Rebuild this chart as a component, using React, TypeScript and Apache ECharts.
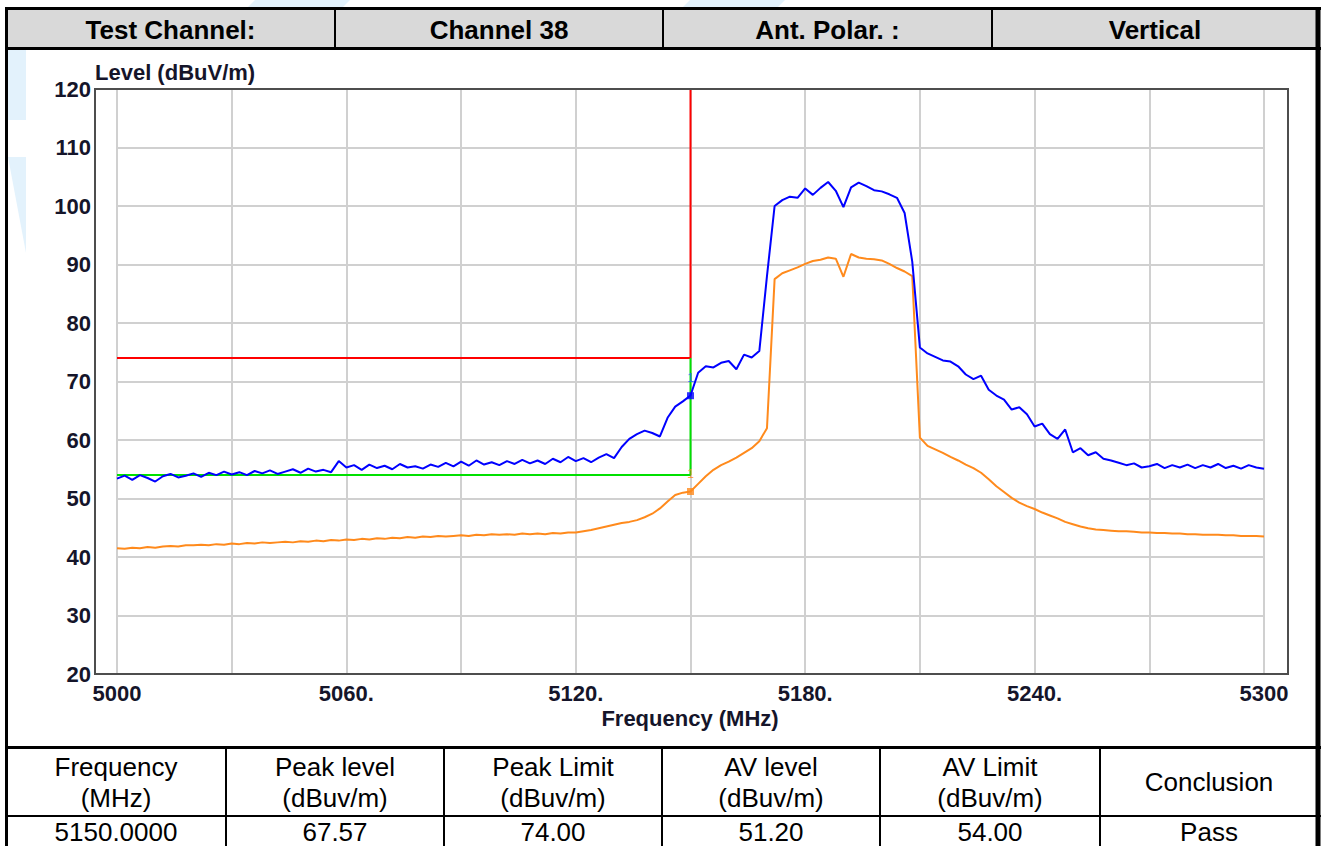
import React, { useEffect, useRef } from "react";
import * as echarts from "echarts";

// ---- data ----
const FREQ_START = 5000;
const FREQ_STEP = 2;

const PEAK_LEVEL = [
  53.4, 53.9, 53.2, 54.0, 53.5, 52.9, 53.8, 54.2, 53.6, 53.9,
  54.3, 53.7, 54.4, 54.0, 54.6, 54.1, 54.5, 54.0, 54.7, 54.3,
  54.8, 54.2, 54.6, 55.0, 54.4, 55.1, 54.6, 54.9, 54.5, 56.4,
  55.3, 55.7, 54.9, 55.8, 55.2, 55.6, 55.0, 55.9, 55.3, 55.5,
  55.1, 55.8, 55.4, 56.1, 55.5, 56.3, 55.6, 56.5, 55.8, 56.2,
  55.7, 56.4, 55.9, 56.6, 56.0, 56.5, 55.9, 56.8, 56.2, 57.1,
  56.4, 56.9, 56.2, 57.0, 57.6, 56.9, 58.8, 60.2, 61.0, 61.6,
  61.2, 60.6, 63.8, 65.7, 66.6, 67.6, 71.5, 72.6, 72.4, 73.2,
  73.5, 72.1, 74.6, 74.1, 75.2, 88.0, 100.0, 101.0, 101.6, 101.4,
  103.0, 101.9, 103.1, 104.1, 102.6, 99.8, 103.2, 104.0, 103.4, 102.7,
  102.5, 102.0, 101.4, 98.8, 90.5, 75.8, 74.8, 74.2, 73.6, 73.4,
  72.6, 71.2, 70.4, 71.0, 68.6, 67.6, 66.9, 65.2, 65.6, 64.4,
  62.3, 62.8, 61.0, 60.2, 61.8, 57.9, 58.6, 57.4, 57.9, 56.8,
  56.5, 56.1, 55.7, 56.0, 55.3, 55.5, 55.9, 55.2, 55.7, 55.3,
  55.8, 55.2, 55.7, 55.3, 55.9, 55.2, 55.6, 55.1, 55.7, 55.3,
  55.1,
];

const AV_LEVEL = [
  41.5, 41.4, 41.6, 41.5, 41.7, 41.6, 41.8, 41.9, 41.8, 42.0,
  42.0, 42.1, 42.0, 42.2, 42.1, 42.3, 42.2, 42.4, 42.3, 42.5,
  42.4, 42.5, 42.6, 42.5, 42.7, 42.6, 42.8, 42.7, 42.9, 42.8,
  43.0, 42.9, 43.1, 43.0, 43.2, 43.1, 43.3, 43.2, 43.4, 43.3,
  43.5, 43.4, 43.6, 43.5, 43.6, 43.7, 43.6, 43.8, 43.7, 43.9,
  43.8, 43.9, 43.8, 44.0, 43.9, 44.0, 43.9, 44.1, 44.0, 44.2,
  44.2, 44.4, 44.6, 44.9, 45.2, 45.5, 45.8, 46.0, 46.3, 46.8,
  47.4, 48.3, 49.5, 50.6, 51.0, 51.2, 52.5, 53.8, 54.9, 55.7,
  56.3, 57.0, 57.8, 58.6, 59.8, 62.0, 87.5, 88.5, 89.0, 89.5,
  90.1, 90.6, 90.8, 91.2, 91.0, 87.9, 91.8, 91.2, 91.0, 90.9,
  90.7, 90.1, 89.4, 88.8, 88.0, 60.4, 59.0, 58.4, 57.8, 57.1,
  56.5, 55.8, 55.2, 54.4, 53.3, 52.1, 51.1, 50.1, 49.3, 48.7,
  48.2, 47.6, 47.1, 46.6, 46.0, 45.6, 45.2, 44.9, 44.7, 44.6,
  44.5, 44.4, 44.4, 44.3, 44.2, 44.2, 44.1, 44.1, 44.0, 44.0,
  43.9, 43.9, 43.8, 43.8, 43.8, 43.7, 43.7, 43.6, 43.6, 43.6,
  43.5,
];

const PEAK_LIMIT_LINE = [
  [5000, 74],
  [5150, 74],
  [5150, 120],
];
const AV_LIMIT_LINE = [
  [5000, 54],
  [5150, 54],
  [5150, 74],
];

const MARKER_FREQ = 5150;
const MARKER_PEAK = 67.57;
const MARKER_AV = 51.2;

const X_TICK_LABELS: [number, string][] = [
  [5000, "5000"],
  [5060, "5060."],
  [5120, "5120."],
  [5180, "5180."],
  [5240, "5240."],
  [5300, "5300"],
];

const HEADER_CELLS = ["Test Channel:", "Channel 38", "Ant. Polar. :", "Vertical"];
const TABLE_HEAD = [
  ["Frequency", "(MHz)"],
  ["Peak level", "(dBuv/m)"],
  ["Peak Limit", "(dBuv/m)"],
  ["AV level", "(dBuv/m)"],
  ["AV Limit", "(dBuv/m)"],
  ["Conclusion"],
];
const TABLE_ROW = ["5150.0000", "67.57", "74.00", "51.20", "54.00", "Pass"];

const Y_AXIS_TITLE = "Level (dBuV/m)";
const X_AXIS_TITLE = "Frequency (MHz)";

export default function App() {
  const ref = useRef<HTMLDivElement>(null);

  useEffect(() => {
    if (!ref.current) return;
    const chart = echarts.init(ref.current, undefined, { renderer: "svg" });

    const peakData = PEAK_LEVEL.map((v, i) => [FREQ_START + i * FREQ_STEP, v]);
    const avData = AV_LEVEL.map((v, i) => [FREQ_START + i * FREQ_STEP, v]);
    const labelMap = new Map(X_TICK_LABELS);

    const FONT = "Arial, 'Liberation Sans', sans-serif";
    const W = 1326;
    const AXIS_TXT = "#15152a";

    const headerBounds = [6, 335, 663, 992, 1318];
    const tableBounds = [6, 226, 444, 662, 880, 1100, 1318];

    const g: any[] = [];
    // watermark
    const wm = "#e3f2fc";
    g.push({ type: "polygon", z: 1, shape: { points: [[255, 0], [350, 0], [342, 8], [247, 8]] }, style: { fill: wm } });
    g.push({ type: "polygon", z: 1, shape: { points: [[690, 0], [785, 0], [777, 8], [682, 8]] }, style: { fill: wm } });
    g.push({ type: "rect", z: 1, shape: { x: 8, y: 50, width: 18, height: 70 }, style: { fill: wm } });
    g.push({ type: "polygon", z: 1, shape: { points: [[8, 157], [26, 157], [26, 253]] }, style: { fill: wm } });

    // header row
    g.push({ type: "rect", z: 5, shape: { x: 6, y: 9, width: 1312, height: 39 }, style: { fill: "#d9d9d9" } });
    g.push({ type: "line", z: 6, shape: { x1: 5, y1: 8.5, x2: 1321, y2: 8.5 }, style: { stroke: "#000", lineWidth: 3 } });
    g.push({ type: "line", z: 6, shape: { x1: 5, y1: 48.5, x2: 1321, y2: 48.5 }, style: { stroke: "#000", lineWidth: 3 } });
    for (let i = 1; i < headerBounds.length - 1; i++) {
      g.push({ type: "line", z: 6, shape: { x1: headerBounds[i], y1: 9, x2: headerBounds[i], y2: 48 }, style: { stroke: "#000", lineWidth: 2 } });
    }
    HEADER_CELLS.forEach((t, i) => {
      g.push({
        type: "text", z: 7,
        x: (headerBounds[i] + headerBounds[i + 1]) / 2, y: 30,
        style: { text: t, font: `bold 26px ${FONT}`, fill: "#000", align: "center", verticalAlign: "middle" },
      });
    });

    // outer left/right borders
    g.push({ type: "line", z: 6, shape: { x1: 6.5, y1: 7, x2: 6.5, y2: 846 }, style: { stroke: "#000", lineWidth: 3 } });
    g.push({ type: "line", z: 6, shape: { x1: 1318, y1: 7, x2: 1318, y2: 846 }, style: { stroke: "#000", lineWidth: 5 } });

    // bottom table
    g.push({ type: "line", z: 6, shape: { x1: 5, y1: 747.5, x2: 1321, y2: 747.5 }, style: { stroke: "#000", lineWidth: 3 } });
    g.push({ type: "line", z: 6, shape: { x1: 5, y1: 816, x2: 1321, y2: 816 }, style: { stroke: "#000", lineWidth: 2 } });
    for (let i = 1; i < tableBounds.length - 1; i++) {
      g.push({ type: "line", z: 6, shape: { x1: tableBounds[i], y1: 748, x2: tableBounds[i], y2: 846 }, style: { stroke: "#000", lineWidth: 2 } });
    }
    const TF = `26px ${FONT}`;
    TABLE_HEAD.forEach((lines, i) => {
      const cx = (tableBounds[i] + tableBounds[i + 1]) / 2;
      if (lines.length === 2) {
        g.push({ type: "text", z: 7, x: cx, y: 767, style: { text: lines[0], font: TF, fill: "#000", align: "center", verticalAlign: "middle" } });
        g.push({ type: "text", z: 7, x: cx, y: 798, style: { text: lines[1], font: TF, fill: "#000", align: "center", verticalAlign: "middle" } });
      } else {
        g.push({ type: "text", z: 7, x: cx, y: 782, style: { text: lines[0], font: TF, fill: "#000", align: "center", verticalAlign: "middle" } });
      }
    });
    TABLE_ROW.forEach((t, i) => {
      const cx = (tableBounds[i] + tableBounds[i + 1]) / 2;
      g.push({ type: "text", z: 7, x: cx, y: 832, style: { text: t, font: TF, fill: "#000", align: "center", verticalAlign: "middle" } });
    });

    // plot frame
    g.push({ type: "rect", z: 50, shape: { x: 95, y: 89, width: 1193, height: 585 }, style: { fill: "none", stroke: "#4d4d4d", lineWidth: 2 } });

    // axis titles
    g.push({ type: "text", z: 7, x: 95, y: 72, style: { text: Y_AXIS_TITLE, font: `bold 22px ${FONT}`, fill: AXIS_TXT, align: "left", verticalAlign: "middle" } });
    g.push({ type: "text", z: 7, x: 690, y: 718, style: { text: X_AXIS_TITLE, font: `bold 22px ${FONT}`, fill: AXIS_TXT, align: "center", verticalAlign: "middle" } });

    chart.setOption({
      animation: false,
      backgroundColor: "#ffffff",
      grid: { left: 117, right: W - 1264, top: 89, bottom: 846 - 674, containLabel: false },
      xAxis: {
        type: "value",
        min: 5000,
        max: 5300,
        interval: 30,
        axisLine: { show: false },
        axisTick: { show: false },
        splitLine: { show: true, lineStyle: { color: "#d0d0d0", width: 2 } },
        axisLabel: {
          margin: 8,
          showMaxLabel: true,
          showMinLabel: true,
          color: AXIS_TXT,
          fontFamily: FONT,
          fontWeight: "bold",
          fontSize: 22,
          formatter: (v: number) => labelMap.get(v) ?? "",
        },
      },
      yAxis: {
        type: "value",
        min: 20,
        max: 120,
        interval: 10,
        axisLine: { show: false },
        axisTick: { show: false },
        splitLine: { show: true, lineStyle: { color: "#d0d0d0", width: 2 } },
        axisLabel: {
          margin: 26,
          color: AXIS_TXT,
          fontFamily: FONT,
          fontWeight: "bold",
          fontSize: 22,
        },
      },
      graphic: { elements: g },
      series: [
        {
          type: "line",
          data: PEAK_LIMIT_LINE,
          showSymbol: false,
          lineStyle: { color: "#ff0000", width: 2 },
          z: 3,
        },
        {
          type: "line",
          data: AV_LIMIT_LINE,
          showSymbol: false,
          lineStyle: { color: "#00e000", width: 2 },
          z: 3,
        },
        {
          type: "line",
          data: avData,
          showSymbol: false,
          lineStyle: { color: "#ff8a1c", width: 2 },
          z: 4,
        },
        {
          type: "line",
          data: peakData,
          showSymbol: false,
          lineStyle: { color: "#0000ff", width: 2 },
          z: 5,
        },
        {
          type: "scatter",
          data: [[MARKER_FREQ, MARKER_PEAK]],
          symbol: "rect",
          symbolSize: 7,
          itemStyle: { color: "#0000ff" },
          label: { show: true, formatter: "1", position: "top", distance: 8, color: "#2060ff", fontSize: 12, fontFamily: FONT },
          z: 6,
        },
        {
          type: "scatter",
          data: [[MARKER_FREQ, MARKER_AV]],
          symbol: "rect",
          symbolSize: 7,
          itemStyle: { color: "#ff8a1c" },
          label: { show: true, formatter: "1", position: "top", distance: 8, color: "#ff8a1c", fontSize: 12, fontFamily: FONT },
          z: 6,
        },
      ],
    });

    return () => chart.dispose();
  }, []);

  return (
    <div
      ref={ref}
      style={{ position: "fixed", left: 0, top: 0, width: 1326, height: 846, background: "#fff" }}
    />
  );
}
